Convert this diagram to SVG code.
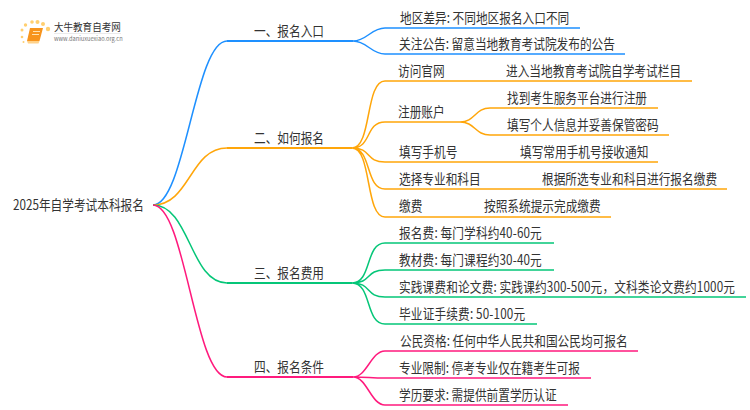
<svg xmlns="http://www.w3.org/2000/svg" width="750" height="410" viewBox="0 0 750 410">
<style>
text{font-family:"Noto Sans CJK SC","Noto Sans",sans-serif;font-size:14px;fill:#333}
.c{fill:none;stroke-width:1.5}
.m{stroke-width:1.9}
.b{stroke:#1e90ff}.o{stroke:#ffa60a}.g{stroke:#05c678}.p{stroke:#ff1a7d}
.d{fill:#ffcf70;stroke:none}
</style>
<rect width="750" height="410" fill="#fff"/>
<g id="connectors">
<path class="c b" d="M153 205C185 205 195 41 227 41"/><path class="c m b" d="M227 41H353"/>
<path class="c b" d="M353 41C367 41 371 28 385 28H580M353 41C367 41 371 54 385 54H625"/>
<path class="c o" d="M153 205C190 205 190 148 227 148"/><path class="c m o" d="M227 148H352"/>
<path class="c o" d="M352 148C372 148 365 81 385 81H692M352 148C372 148 365 122 385 122H460M352 148C372 148 365 162 385 162H658M352 148C372 148 365 189 385 189H727M352 148C372 148 365 217 385 217H611"/>
<path class="c o" d="M460 122C475 122 475 108 490 108H658M460 122C475 122 475 135 490 135H669"/>
<path class="c g" d="M153 205C190 205 190 283 227 283"/><path class="c m g" d="M227 283H352"/>
<path class="c g" d="M352 283C372 283 365 243 385 243H554M352 283C372 283 365 270 385 270H554M352 283C372 283 365 297 385 297H746M352 283C372 283 365 324 385 324H537"/>
<path class="c p" d="M153 205C185 205 195 377 227 377"/><path class="c m p" d="M227 377H353"/>
<path class="c p" d="M353 377C367 377 371 351 385 351H638M353 377C367 377 371 378 385 378H591M353 377C367 377 371 405 385 405H568"/>
</g>
<g id="logo">
<circle class="d" cx="22" cy="30" r="1.5"/><circle class="d" cx="25.500" cy="25" r="1.7"/><circle class="d" cx="32" cy="22" r="1.8"/><circle class="d" cx="37.500" cy="22" r="2"/><circle class="d" cx="43" cy="24" r="2"/><circle class="d" cx="48" cy="29" r="2.200"/><circle class="d" cx="22" cy="37" r="1.300"/><circle class="d" cx="23.500" cy="42" r="1"/>
<path d="M30 28H43L39.500 41H27Z" fill="#f7941d"/><path d="M27 41H39.500L38.500 43.500H28Z" fill="#ffd28a"/><path d="M33 31.500H40M32 34.500H39" stroke="#ffe2b0" stroke-width="1"/>
<text transform="translate(54 31) scale(.9 1)" style="font-size:10.600px">大牛教育自考网</text>
<path d="M54 33.500H121" stroke="#ddd" stroke-width="0.600"/>
<text x="54" y="41" style="font-size:5.700px;fill:#777">www.daniuxuexiao.org.cn</text>
</g>
<g id="root"><text transform="translate(13 210) scale(.835 1)">2025年自学考试本科报名</text></g>
<g id="n1"><text transform="translate(254 36) scale(.835 1)">一、报名入口</text></g>
<g id="n1-1"><text transform="translate(400 23) scale(.835 1)">地区差异: 不同地区报名入口不同</text></g>
<g id="n1-2"><text transform="translate(399 49) scale(.835 1)">关注公告: 留意当地教育考试院发布的公告</text></g>
<g id="n2"><text transform="translate(254 143) scale(.835 1)">二、如何报名</text></g>
<g id="n2-1"><text transform="translate(398 76) scale(.835 1)">访问官网</text><text transform="translate(506 76) scale(.835 1)">进入当地教育考试院自学考试栏目</text></g>
<g id="n2-2"><text transform="translate(398 117) scale(.835 1)">注册账户</text><text transform="translate(507 103) scale(.835 1)">找到考生服务平台进行注册</text><text transform="translate(507 130) scale(.835 1)">填写个人信息并妥善保管密码</text></g>
<g id="n2-3"><text transform="translate(399 157) scale(.835 1)">填写手机号</text><text transform="translate(520 157) scale(.835 1)">填写常用手机号接收通知</text></g>
<g id="n2-4"><text transform="translate(399 184) scale(.835 1)">选择专业和科目</text><text transform="translate(542 184) scale(.835 1)">根据所选专业和科目进行报名缴费</text></g>
<g id="n2-5"><text transform="translate(399 211) scale(.835 1)">缴费</text><text transform="translate(484 211) scale(.835 1)">按照系统提示完成缴费</text></g>
<g id="n3"><text transform="translate(254 278) scale(.835 1)">三、报名费用</text></g>
<g id="n3-1"><text transform="translate(399 238) scale(.835 1)" textLength="171">报名费: 每门学科约40-60元</text></g>
<g id="n3-2"><text transform="translate(399 265) scale(.835 1)" textLength="171">教材费: 每门课程约30-40元</text></g>
<g id="n3-3"><text transform="translate(399 292) scale(.835 1)" textLength="402.400">实践课费和论文费: 实践课约300-500元，文科类论文费约1000元</text></g>
<g id="n3-4"><text transform="translate(399 319) scale(.835 1)" textLength="151">毕业证手续费: 50-100元</text></g>
<g id="n4"><text transform="translate(254 372) scale(.835 1)">四、报名条件</text></g>
<g id="n4-1"><text transform="translate(400 346) scale(.835 1)">公民资格: 任何中华人民共和国公民均可报名</text></g>
<g id="n4-2"><text transform="translate(399 373) scale(.835 1)">专业限制: 停考专业仅在籍考生可报</text></g>
<g id="n4-3"><text transform="translate(399 400) scale(.835 1)">学历要求: 需提供前置学历认证</text></g>
</svg>
